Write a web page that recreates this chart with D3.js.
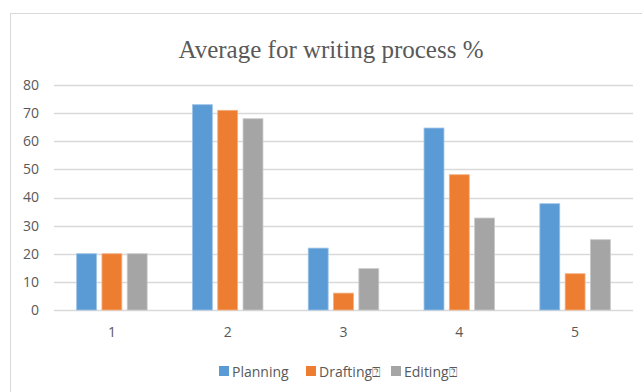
<!DOCTYPE html>
<html>
<head>
<meta charset="utf-8">
<script src="https://cdn.jsdelivr.net/npm/d3@7"></script>
<style>
  body { margin: 0; background: #fff; }
  svg { display: block; }
</style>
</head>
<body>
<div id="chart"></div>
<script>
var categories = ["1", "2", "3", "4", "5"];
var seriesNames = ["Planning", "Drafting\u2370", "Editing\u2370"];
var planning = [20, 73, 22, 64.7, 37.8];
var drafting = [20, 71, 6, 48.1, 12.9];
var editing = [20, 68, 14.7, 32.7, 25];
var yTicks = [0, 10, 20, 30, 40, 50, 60, 70, 80];
var colors = ["#5B9BD5", "#ED7D31", "#A5A5A5"];
var strokes = ["#9DC3E6", "#F4B183", "#C9C9C9"];

var full_width = 642,
    full_height = 392;

var margin = { top: 85, right: 9, bottom: 82, left: 54 };
var width = full_width - margin.left - margin.right;
var height = full_height - margin.top - margin.bottom;

var labelFont = "'Open Sans', Lato, sans-serif";

var svg = d3.select("#chart").append("svg")
    .attr("width", full_width)
    .attr("height", full_height);

// chart border
svg.append("rect")
    .attr("x", 10.5)
    .attr("y", 13.5)
    .attr("width", 640)
    .attr("height", 400)
    .attr("fill", "none")
    .attr("stroke", "#d9d9d9");

var x = d3.scaleBand()
    .domain(categories)
    .range([0, width]);

var y = d3.scaleLinear()
    .domain([0, 80])
    .range([height, 0]);

var g = svg.append("g")
    .attr("transform", "translate(" + margin.left + "," + margin.top + ")");

// gridlines
g.selectAll("line.grid")
    .data(yTicks)
    .enter().append("line")
    .attr("class", "grid")
    .attr("x1", 0)
    .attr("x2", width)
    .attr("y1", function(d) { return Math.round(y(d)) + 0.5; })
    .attr("y2", function(d) { return Math.round(y(d)) + 0.5; })
    .attr("stroke", "#d9d9d9")
    .attr("stroke-width", 1.3);

// y axis labels
var yAxis = g.append("g").call(d3.axisLeft(y).tickValues(yTicks).tickSize(0).tickPadding(15));
yAxis.select(".domain").remove();
yAxis.selectAll("text")
    .attr("fill", "#595959")
    .style("font-family", labelFont)
    .style("font-size", "14px");

// x axis labels
var xAxis = g.append("g")
    .attr("transform", "translate(0," + height + ")")
    .call(d3.axisBottom(x).tickSize(0).tickPadding(17));
xAxis.select(".domain").remove();
xAxis.selectAll("text")
    .attr("fill", "#595959")
    .style("font-family", labelFont)
    .style("font-size", "14px");

var series = [planning, drafting, editing];
var barW = x.bandwidth() * 0.172;
var step = x.bandwidth() * 0.2185;

series.forEach(function(vals, s) {
    g.selectAll("rect.s" + s)
        .data(vals)
        .enter().append("rect")
        .attr("class", "s" + s)
        .attr("x", function(d, i) {
            return x(categories[i]) + x.bandwidth() / 2 + (s - 1) * step - barW / 2;
        })
        .attr("y", function(d) { return y(d); })
        .attr("width", barW)
        .attr("height", function(d) { return height - y(d); })
        .attr("fill", colors[s])
        .attr("stroke", strokes[s])
        .attr("stroke-width", 0.8);
});

// title
svg.append("text")
    .attr("x", 331)
    .attr("y", 58)
    .attr("text-anchor", "middle")
    .attr("fill", "#595959")
    .style("font-family", "'Liberation Serif', 'Times New Roman', serif")
    .style("font-size", "25px")
    .text("Average for writing process %");

// legend
var legendX = [219, 306, 391];
var legend = svg.append("g");
seriesNames.forEach(function(name, i) {
    var lg = legend.append("g").attr("transform", "translate(" + legendX[i] + ",366)");
    lg.append("rect")
        .attr("width", 10)
        .attr("height", 10)
        .attr("fill", colors[i]);
    lg.append("text")
        .attr("x", 13)
        .attr("y", 10.5)
        .attr("fill", "#595959")
        .style("font-family", labelFont)
        .style("font-size", "14px")
        .text(name);
});
</script>
</body>
</html>
